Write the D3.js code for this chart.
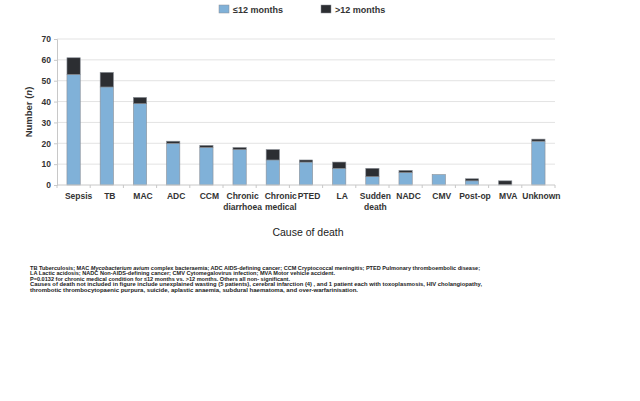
<!DOCTYPE html>
<html>
<head>
<meta charset="utf-8">
<script src="https://cdn.jsdelivr.net/npm/d3@7"></script>
<style>
  body { margin: 0; background: #fff; }
  text { font-family: "Liberation Sans", Arial, sans-serif; }
</style>
</head>
<body>
<div id="chart"></div>
<script>
// Data
var causes = ["Sepsis", "TB", "MAC", "ADC", "CCM", "Chronic diarrhoea", "Chronic medical",
  "PTED", "LA", "Sudden death", "NADC", "CMV", "Post-op", "MVA", "Unknown"];
var within12 = [53, 47, 39, 20, 18, 17, 12, 11, 8, 4, 6, 5, 2, 0, 21];
var over12 = [8, 7, 3, 1, 1, 1, 5, 1, 3, 4, 1, 0, 1, 2, 1];
var seriesNames = ["\u226412 months", ">12 months"];
var yTicks = [0, 10, 20, 30, 40, 50, 60, 70];
var footnotes = [
  [["TB Tuberculosis; MAC ", false], ["Mycobacterium avium", true], [" complex bacteraemia; ADC AIDS-defining cancer; CCM Cryptococcal meningitis; PTED Pulmonary thromboembolic disease;", false]],
  [["LA Lactic acidosis; NADC Non-AIDS-defining cancer; CMV Cytomegalovirus infection; MVA Motor vehicle accident.", false]],
  [["P=0.0132 for chronic medical condition for \u226412 months vs. >12 months. Others all non- significant.", false]],
  [["Causes of death not included in figure include unexplained wasting (5 patients), cerebral infarction (4) , and 1 patient each with toxoplasmosis, HIV cholangiopathy,", false]],
  [["thrombotic thrombocytopaenic purpura, suicide, aplastic anaemia, subdural haematoma, and over-warfarinisation.", false]]
];
var footWidths = [450, 305, 260, 452, 328];

var colors = ["#80b1d8", "#2c2e32"];
var width = 640, height = 401;
var margin = { top: 39, left: 57, right: 85, bottom: 216 };
var plotW = width - margin.left - margin.right;
var plotH = height - margin.top - margin.bottom;

var svg = d3.select("#chart").append("svg")
  .attr("width", width)
  .attr("height", height);

var g = svg.append("g")
  .attr("transform", "translate(" + margin.left + "," + margin.top + ")");

var x = d3.scaleBand()
  .domain(causes)
  .range([0, plotW])
  .paddingInner(0.6)
  .paddingOuter(0.3);

var y = d3.scaleLinear()
  .domain([0, 70])
  .range([plotH, 0]);

// gridlines
g.selectAll(".grid")
  .data(yTicks.slice(1))
  .enter().append("line")
  .attr("x1", 0)
  .attr("x2", plotW)
  .attr("y1", d => y(d))
  .attr("y2", d => y(d))
  .attr("stroke", "#e3e3e3")
  .attr("stroke-width", 1);

// stacked bars
var stack = causes.map(function(c, i) {
  return { cause: c, a: within12[i], b: over12[i] };
});

var bars = g.selectAll(".bar")
  .data(stack)
  .enter().append("g")
  .attr("transform", d => "translate(" + x(d.cause) + ",0)");

bars.filter(d => d.a > 0).append("rect")
  .attr("width", x.bandwidth())
  .attr("y", d => y(d.a))
  .attr("height", d => plotH - y(d.a))
  .attr("fill", colors[0])
  .attr("stroke", "#8a8f96")
  .attr("stroke-width", 0.6);

bars.filter(d => d.b > 0).append("rect")
  .attr("width", x.bandwidth())
  .attr("y", d => y(d.a + d.b))
  .attr("height", d => y(d.a) - y(d.a + d.b))
  .attr("fill", colors[1])
  .attr("stroke", "#8a8f96")
  .attr("stroke-width", 0.6);

// y axis
var yAxis = d3.axisLeft(y)
  .tickValues(yTicks)
  .tickSize(3)
  .tickPadding(3);

var ya = g.append("g").call(yAxis);
ya.select(".domain").attr("stroke", "#c8c8c8");
ya.selectAll(".tick line").attr("stroke", "#c8c8c8");
ya.selectAll(".tick text")
  .style("font-size", "8.5px")
  .style("font-weight", "bold")
  .attr("fill", "#333");

// x axis with ticks at category boundaries
var xa = g.append("g").attr("transform", "translate(0," + plotH + ")");
xa.append("line")
  .attr("x1", 0).attr("x2", plotW)
  .attr("stroke", "#c8c8c8");
var step = x.step();
xa.selectAll(".xt")
  .data(d3.range(causes.length + 1))
  .enter().append("line")
  .attr("x1", i => i * step)
  .attr("x2", i => i * step)
  .attr("y1", 0).attr("y2", 3)
  .attr("stroke", "#c8c8c8");

// labels sit a little right of the bar centres, as in the original
function labelX(d) {
  var shift = d === "Chronic medical" ? 8 : (d === "Sepsis" ? 5 : 3);
  return x(d) + x.bandwidth() / 2 + shift;
}

xa.selectAll(".lbl")
  .data(causes)
  .enter().append("text")
  .attr("y", 14)
  .attr("text-anchor", "middle")
  .style("font-size", "8.5px")
  .style("font-weight", "bold")
  .attr("fill", "#333")
  .each(function(d) {
    var words = d.split(" ");
    var t = d3.select(this);
    words.forEach(function(w, i) {
      t.append("tspan")
        .attr("x", labelX(d))
        .attr("dy", i === 0 ? 0 : 10.5)
        .text(w);
    });
  });

// axis titles
svg.append("text")
  .attr("x", margin.left + plotW / 2 + 2)
  .attr("y", 236)
  .attr("text-anchor", "middle")
  .style("font-size", "10.5px")
  .attr("fill", "#222")
  .text("Cause of death");

var yt = svg.append("text")
  .attr("transform", "translate(32," + (margin.top + plotH / 2) + ") rotate(-90)")
  .attr("text-anchor", "middle")
  .style("font-size", "9.5px")
  .style("font-weight", "bold")
  .attr("fill", "#333");
yt.append("tspan").text("Number (");
yt.append("tspan").style("font-style", "italic").text("n");
yt.append("tspan").text(")");

// legend
var legend = svg.selectAll(".legend")
  .data(seriesNames)
  .enter().append("g")
  .attr("transform", (d, i) => "translate(" + (219 + i * 102) + ",5)");

legend.append("rect")
  .attr("width", 10)
  .attr("height", 8)
  .attr("fill", (d, i) => colors[i])
  .attr("stroke", "#8a8f96")
  .attr("stroke-width", 0.5);

legend.append("text")
  .attr("x", 14)
  .attr("y", 8)
  .style("font-size", "9px")
  .style("font-weight", "bold")
  .attr("fill", "#333")
  .text(d => d);

// footnotes
var foot = svg.append("g");
footnotes.forEach(function(line, i) {
  var t = foot.append("text")
    .attr("x", 30)
    .attr("y", 270 + i * 5.4)
    .style("font-size", "5.4px")
    .style("font-weight", "bold")
    .attr("fill", "#222")
    .attr("textLength", footWidths[i])
    .attr("lengthAdjust", "spacingAndGlyphs");
  line.forEach(function(part) {
    t.append("tspan")
      .style("font-style", part[1] ? "italic" : "normal")
      .text(part[0]);
  });
});
</script>
</body>
</html>
